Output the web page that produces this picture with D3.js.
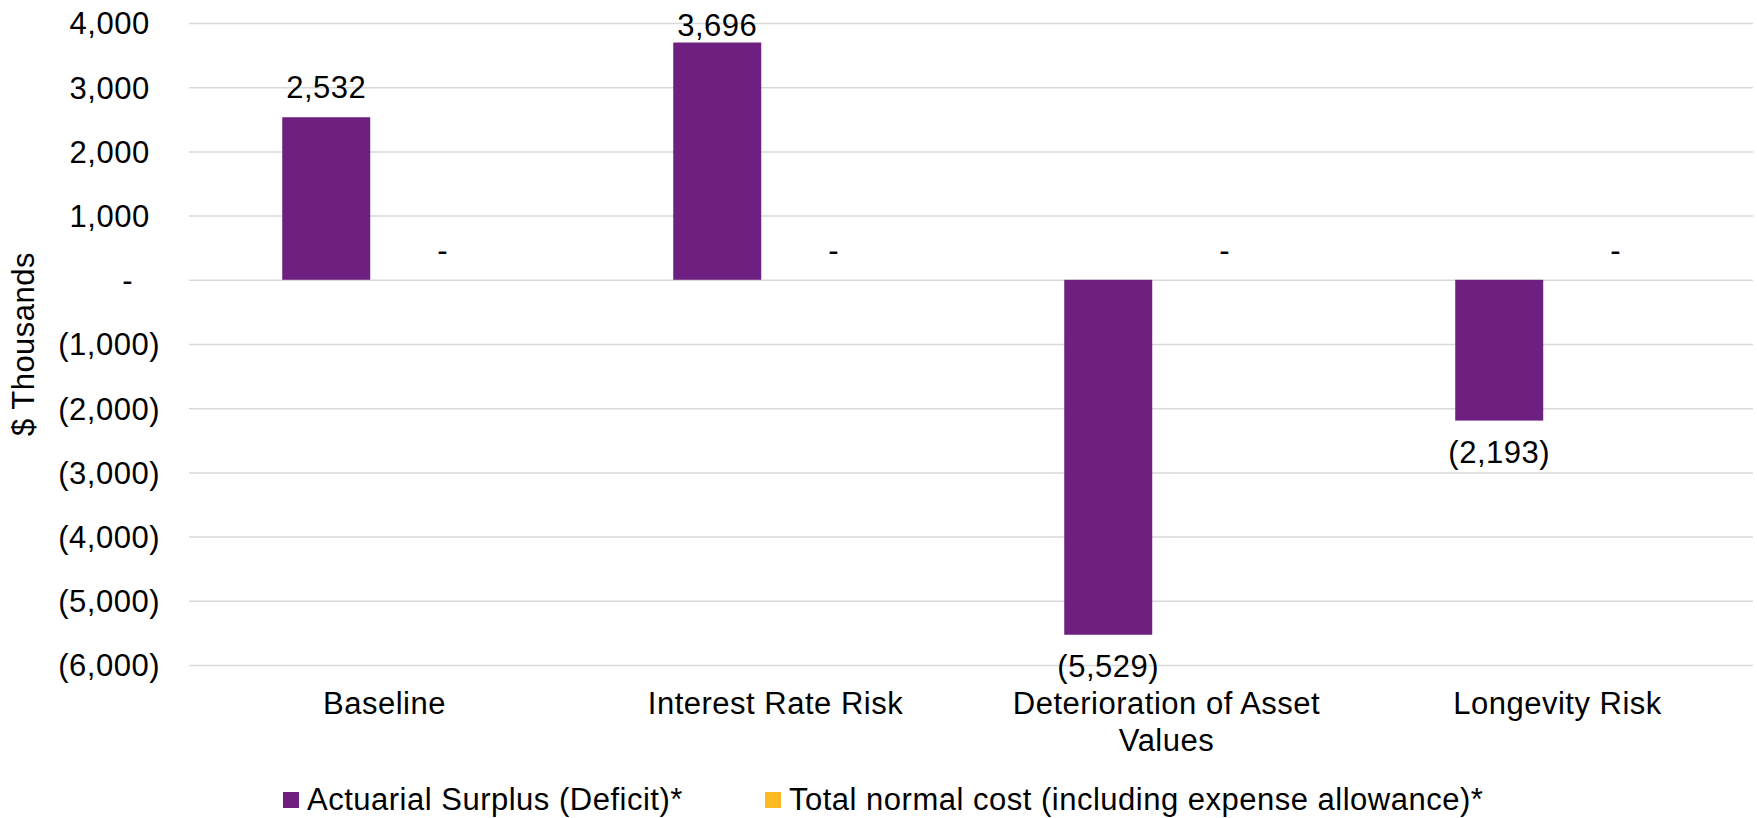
<!DOCTYPE html>
<html>
<head>
<meta charset="utf-8">
<script src="https://cdn.jsdelivr.net/npm/d3@7"></script>
<style>
  html, body { margin: 0; padding: 0; background: #ffffff; }
  svg { display: block; }
  text { font-family: "Liberation Sans", Arial, sans-serif; fill: #000; letter-spacing: 0.5px; }
</style>
</head>
<body>
<svg id="chart" width="1757" height="818"></svg>
<script>
// Scenario categories and the two reported series ($ thousands)
const categories = ["Baseline", "Interest Rate Risk", "Deterioration of Asset Values", "Longevity Risk"];
const seriesNames = ["Actuarial Surplus (Deficit)*", "Total normal cost (including expense allowance)*"];
const surplus = [2532, 3696, -5529, -2193];
const normalCost = [0, 0, 0, 0];
const seriesColors = ["#6E2080", "#FDB924"];
const yTicks = [4000, 3000, 2000, 1000, 0, -1000, -2000, -3000, -4000, -5000, -6000];
const yDomain = [-6000, 4000];
const yTitle = "$ Thousands";

const FS = 31; // font size, px

const svg = d3.select("#chart");
const plot = { left: 189, right: 1753, top: 23, bottom: 665 };

// Accounting-style number format: parentheses for negatives, dash for zero
const acct = v => v === 0 ? "-" : (v < 0 ? "(" + d3.format(",")(-v) + ")" : d3.format(",")(v));

const y = d3.scaleLinear().domain(yDomain).range([plot.bottom, plot.top]);
const x0 = d3.scaleBand().domain(categories).range([plot.left, plot.right]).padding(0);
const x1 = d3.scaleBand().domain(seriesNames).range([0, x0.bandwidth()])
  .paddingInner(0.245).paddingOuter(0.8);

// Horizontal gridlines
const grid = svg.append("g")
  .attr("transform", `translate(${plot.left},0)`)
  .call(d3.axisLeft(y).tickValues(yTicks).tickSize(-(plot.right - plot.left)).tickFormat(""));
grid.select(".domain").remove();
grid.selectAll(".tick line").attr("stroke", "#D9D9D9").attr("stroke-width", 1.5);

// Y axis labels (digits aligned, negatives carry a closing parenthesis)
const parenW = 0.333 * FS;
const yAxis = svg.append("g")
  .attr("transform", `translate(160,0)`)
  .call(d3.axisLeft(y).tickValues(yTicks).tickSize(0).tickPadding(0).tickFormat(acct));
yAxis.select(".domain").remove();
yAxis.selectAll(".tick text")
  .attr("font-size", FS)
  .attr("dy", 0.35 * FS)
  .attr("x", d => d < 0 ? 0 : (d > 0 ? -parenW : -27))
  .attr("fill", "#000");

// Y axis title
svg.append("text")
  .attr("transform", `translate(34,${(plot.top + plot.bottom) / 2}) rotate(-90)`)
  .attr("text-anchor", "middle")
  .attr("font-size", FS)
  .text(yTitle);

// Bars
const rows = categories.map((c, i) => ({ cat: c, vals: [surplus[i], normalCost[i]] }));
const groups = svg.append("g").selectAll("g")
  .data(rows).join("g")
  .attr("transform", d => `translate(${x0(d.cat)},0)`);

groups.selectAll("rect")
  .data(d => d.vals.map((v, k) => ({ s: seriesNames[k], v, k })))
  .join("rect")
  .attr("x", d => x1(d.s))
  .attr("width", x1.bandwidth())
  .attr("y", d => y(Math.max(0, d.v)))
  .attr("height", d => Math.abs(y(d.v) - y(0)))
  .attr("fill", d => seriesColors[d.k]);

// Value labels (kept inside the chart area at the top)
groups.selectAll("text.val")
  .data(d => d.vals.map((v, k) => ({ s: seriesNames[k], v, k })))
  .join("text")
  .attr("class", "val")
  .attr("x", d => x1(d.s) + x1.bandwidth() / 2)
  .attr("y", d => d.v < 0 ? y(d.v) + 42 : Math.max(y(d.v) - 19, 36))
  .attr("text-anchor", "middle")
  .attr("font-size", FS)
  .text(d => acct(d.v));

// Category axis with wrapped labels
const xAxis = svg.append("g")
  .attr("transform", `translate(0,${plot.bottom})`)
  .call(d3.axisBottom(x0).tickSize(0).tickPadding(0));
xAxis.select(".domain").remove();
xAxis.selectAll(".tick text")
  .attr("font-size", FS)
  .attr("fill", "#000")
  .attr("y", 49)
  .attr("dy", 0)
  .each(function (d) {
    const t = d3.select(this);
    const words = d.split(" ");
    t.text(null);
    let line = [];
    let tspan = t.append("tspan").attr("x", 0).attr("y", 49);
    let lineNo = 0;
    words.forEach(w => {
      line.push(w);
      tspan.text(line.join(" "));
      if (tspan.node().getComputedTextLength() > 345 && line.length > 1) {
        line.pop();
        tspan.text(line.join(" "));
        line = [w];
        lineNo++;
        tspan = t.append("tspan").attr("x", 0).attr("y", 49 + lineNo * 36.7).text(w);
      }
    });
  });

// Legend
const legendX = [283, 765];
const legend = svg.append("g").selectAll("g")
  .data(seriesNames).join("g")
  .attr("transform", (d, i) => `translate(${legendX[i]},792)`);
legend.append("rect")
  .attr("width", 16).attr("height", 16)
  .attr("fill", (d, i) => seriesColors[i]);
legend.append("text")
  .attr("x", 24).attr("y", 18)
  .attr("font-size", FS)
  .text(d => d);
</script>
</body>
</html>
